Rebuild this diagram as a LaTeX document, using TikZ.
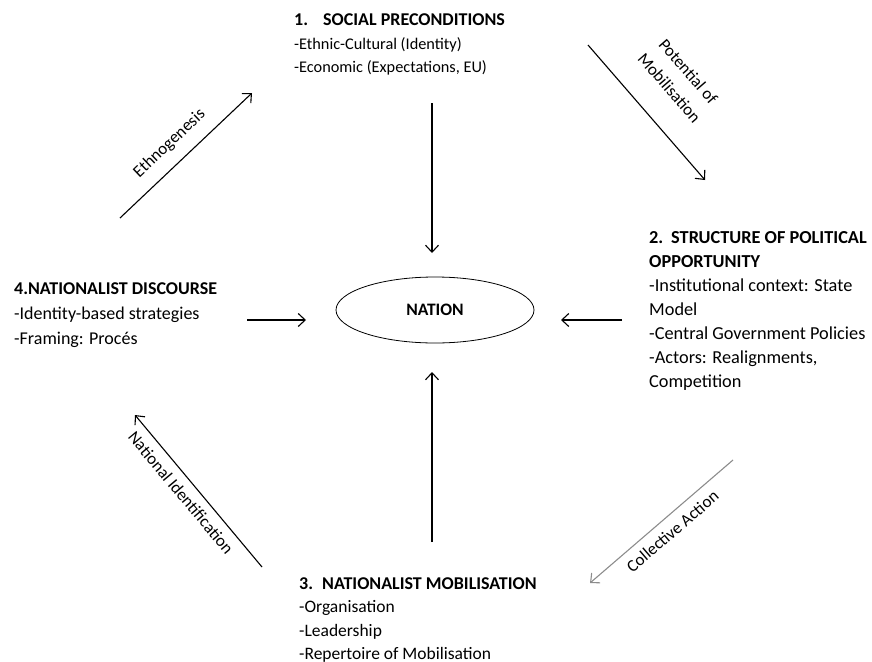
\documentclass[tikz,border=0pt]{standalone}
\usepackage{fontspec}
\setmainfont{Carlito}
\usetikzlibrary{arrows.meta,shapes.geometric}
\begin{document}
\begin{tikzpicture}[x=1pt,y=-1pt,
  conn/.style={line width=1.1pt,-{Straight Barb[length=7pt,width=13pt,line width=1.1pt]}},
  faint/.style={line width=1.1pt,draw=black!45,-{Straight Barb[length=7pt,width=13pt,line width=1.1pt]}},
  blk/.style={anchor=base west,inner sep=0pt,align=left},
  lbl/.style={font=\fontsize{17}{22}\selectfont,sloped,inner sep=0pt,align=center}]
\useasboundingbox (0,0) rectangle (872,661);

% blocks
\node[blk,font=\fontsize{16.3}{23.5}\selectfont] (pre) at (294,26)
  {\begin{tabular}[t]{@{}l@{}}{\fontsize{18}{23.5}\selectfont\bfseries\makebox[29pt][l]{1.}SOCIAL PRECONDITIONS}\\-Ethnic-Cultural (Identity)\\-Economic (Expectations, EU)\end{tabular}};
\node[blk,font=\fontsize{18.3}{24}\selectfont] (spo) at (649,243)
  {\begin{tabular}[t]{@{}l@{}}\textbf{\makebox[22pt][l]{2.}STRUCTURE OF POLITICAL}\\\textbf{OPPORTUNITY}\\-Institutional context: State\\Model\\-Central Government Policies\\-Actors: Realignments,\\Competition\end{tabular}};
\node[blk,font=\fontsize{17.5}{23.5}\selectfont] (mob) at (299,589)
  {\begin{tabular}[t]{@{}l@{}}{\fontsize{18}{23.5}\selectfont\bfseries\makebox[23pt][l]{3.}NATIONALIST MOBILISATION}\\-Organisation\\-Leadership\\-Repertoire of Mobilisation\end{tabular}};
\node[blk,font=\fontsize{18}{25}\selectfont] (dis) at (14,294)
  {\begin{tabular}[t]{@{}l@{}}\textbf{4.NATIONALIST DISCOURSE}\\-Identity-based strategies\\-Framing: Procés\end{tabular}};

% centre
\node[draw,ellipse,line width=0.8pt,minimum width=198pt,minimum height=66pt,
  font=\fontsize{17.5}{20}\selectfont\bfseries] (nation) at (435,310) {NATION};

% endpoints
\coordinate (ta) at (432,103);  \coordinate (tb) at (432,253);
\coordinate (ba) at (432,542);  \coordinate (bb) at (432,372);
\coordinate (la) at (247,320);  \coordinate (lb) at (306,320);
\coordinate (ra) at (622,320);  \coordinate (rb) at (561,320);
\coordinate (ea) at (120,218);  \coordinate (eb) at (252,93);
\coordinate (pa) at (588,45);   \coordinate (pb) at (705,180);
\coordinate (ca) at (733,460);  \coordinate (cb) at (590,583);
\coordinate (na) at (262,567);  \coordinate (nb) at (135,415);

\draw[conn] (ta) -- (tb);
\draw[conn] (ba) -- (bb);
\draw[conn] (la) -- (lb);
\draw[conn] (ra) -- (rb);
\draw[conn] (ea) -- node[lbl,above=12pt,pos=0.48] (lab1) {Ethnogenesis} (eb);
\draw[conn] (pa) -- node[lbl,font=\fontsize{17}{25}\selectfont,above=27pt,pos=0.48] (lab2) {Potential of\\Mobilisation} (pb);
\draw[faint] (ca) -- node[lbl,below=8pt,pos=0.49] (lab3) {Collective Action} (cb);
\draw[conn] (na) -- node[lbl,below=8pt,pos=0.55] (lab4) {National Identification} (nb);
\end{tikzpicture}
\end{document}
